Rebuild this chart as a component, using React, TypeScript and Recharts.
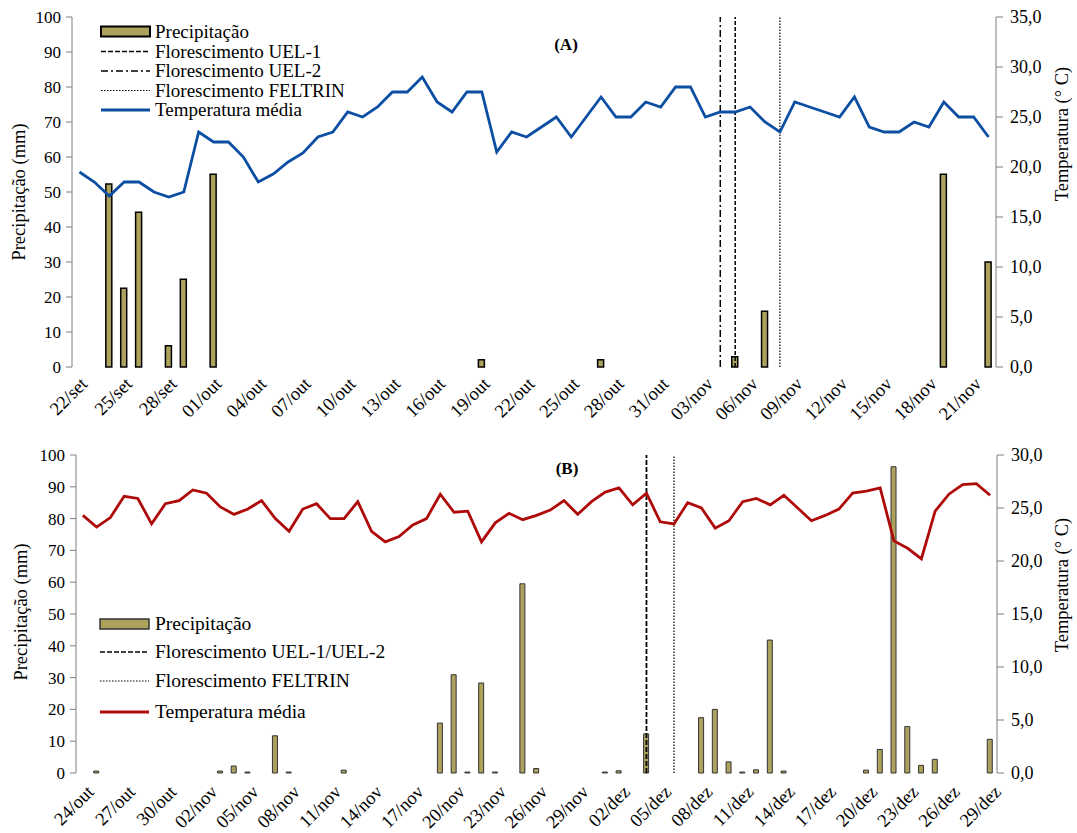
import { Bar, ComposedChart, Line, ReferenceLine, XAxis, YAxis } from 'recharts'

const serif = 'Liberation Serif, DejaVu Serif, Times New Roman, serif'
const barColor = '#ADA15E'
const axisColor = '#7f7f7f'

// Painel A: 22/set a 22/nov
const datesA = [
  '22/set', '23/set', '24/set', '25/set', '26/set', '27/set', '28/set', '29/set', '30/set',
  '01/out', '02/out', '03/out', '04/out', '05/out', '06/out', '07/out', '08/out', '09/out', '10/out',
  '11/out', '12/out', '13/out', '14/out', '15/out', '16/out', '17/out', '18/out', '19/out', '20/out',
  '21/out', '22/out', '23/out', '24/out', '25/out', '26/out', '27/out', '28/out', '29/out', '30/out', '31/out',
  '01/nov', '02/nov', '03/nov', '04/nov', '05/nov', '06/nov', '07/nov', '08/nov', '09/nov', '10/nov',
  '11/nov', '12/nov', '13/nov', '14/nov', '15/nov', '16/nov', '17/nov', '18/nov', '19/nov', '20/nov',
  '21/nov', '22/nov',
]

const precipA = [
  0, 0, 52.3, 22.5, 44.2, 0, 6.1, 25.1, 0, 55.1,
  0, 0, 0, 0, 0, 0, 0, 0, 0, 0,
  0, 0, 0, 0, 0, 0, 0, 2.1, 0, 0,
  0, 0, 0, 0, 0, 2.1, 0, 0, 0, 0,
  0, 0, 0, 0, 2.9, 0, 15.9, 0, 0, 0,
  0, 0, 0, 0, 0, 0, 0, 0, 55.1, 0,
  0, 30.0,
]

const tempA = [
  19.5, 18.5, 17.1, 18.5, 18.5, 17.5, 17.0, 17.5, 23.5, 22.5,
  22.5, 21.0, 18.5, 19.3, 20.5, 21.4, 23.0, 23.5, 25.5, 25.0,
  26.0, 27.5, 27.5, 29.0, 26.5, 25.5, 27.5, 27.5, 21.5, 23.5,
  23.0, 24.0, 25.0, 23.0, 25.0, 27.0, 25.0, 25.0, 26.5, 26.0,
  28.0, 28.0, 25.0, 25.5, 25.5, 26.0, 24.5, 23.5, 26.5, 26.0,
  25.5, 25.0, 27.0, 24.0, 23.5, 23.5, 24.5, 24.0, 26.5, 25.0,
  25.0, 23.0,
]

// Painel B: 24/out a 29/dez
const datesB = [
  '24/out', '25/out', '26/out', '27/out', '28/out', '29/out', '30/out', '31/out',
  '01/nov', '02/nov', '03/nov', '04/nov', '05/nov', '06/nov', '07/nov', '08/nov', '09/nov', '10/nov',
  '11/nov', '12/nov', '13/nov', '14/nov', '15/nov', '16/nov', '17/nov', '18/nov', '19/nov', '20/nov',
  '21/nov', '22/nov', '23/nov', '24/nov', '25/nov', '26/nov', '27/nov', '28/nov', '29/nov', '30/nov',
  '01/dez', '02/dez', '03/dez', '04/dez', '05/dez', '06/dez', '07/dez', '08/dez', '09/dez', '10/dez',
  '11/dez', '12/dez', '13/dez', '14/dez', '15/dez', '16/dez', '17/dez', '18/dez', '19/dez', '20/dez',
  '21/dez', '22/dez', '23/dez', '24/dez', '25/dez', '26/dez', '27/dez', '28/dez', '29/dez',
]

const precipB = [
  0, 0.6, 0, 0, 0, 0, 0, 0, 0, 0,
  0.6, 2.2, 0.3, 0, 11.7, 0.3, 0, 0, 0, 0.9,
  0, 0, 0, 0, 0, 0, 15.7, 30.9, 0.3, 28.3,
  0.3, 0, 59.5, 1.4, 0, 0, 0, 0, 0.3, 0.7,
  0, 12.3, 0, 0, 0, 17.4, 20.0, 3.5, 0.3, 1.0,
  41.8, 0.6, 0, 0, 0, 0, 0, 0.9, 7.4, 96.3,
  14.6, 2.4, 4.3, 0, 0, 0, 10.6,
]

const tempB = [
  24.3, 23.2, 24.1, 26.1, 25.9, 23.5, 25.4, 25.7, 26.7, 26.4,
  25.1, 24.4, 24.9, 25.7, 24.0, 22.8, 24.9, 25.4, 24.0, 24.0,
  25.6, 22.8, 21.8, 22.3, 23.4, 24.0, 26.3, 24.6, 24.7, 21.8,
  23.6, 24.5, 23.9, 24.3, 24.8, 25.7, 24.4, 25.6, 26.5, 26.9,
  25.3, 26.4, 23.7, 23.5, 25.5, 25.0, 23.1, 23.8, 25.6, 25.9,
  25.3, 26.2, 25.0, 23.8, 24.3, 24.9, 26.4, 26.6, 26.9, 21.9,
  21.2, 20.2, 24.7, 26.3, 27.2, 27.3, 26.2,
]

const mmTicks = [0, 10, 20, 30, 40, 50, 60, 70, 80, 90, 100]
const tempTicksA = [0, 5, 10, 15, 20, 25, 30, 35]
const tempTicksB = [0, 5, 10, 15, 20, 25, 30]

const dataA = datesA.map((date, i) => ({ date, precip: precipA[i], temp: tempA[i] }))
const dataB = datesB.map((date, i) => ({ date, precip: precipB[i], temp: tempB[i] }))

const dayEdgesA = Array.from({ length: datesA.length + 1 }, (_, i) => i)
const dayEdgesB = Array.from({ length: datesB.length + 1 }, (_, i) => i)

const fmtTemp = (v: number) => v.toFixed(1).replace('.', ',')

const DateTick = (props: any) => {
  const { x, y, payload, drop = 18, shift = 9 } = props
  const ax = x + shift
  const ay = y + drop
  return (
    <text x={ax} y={ay} textAnchor="end" fontSize={18.5} fontFamily={serif} fill="#000" transform={`rotate(-45 ${ax} ${ay})`}>
      {payload.value}
    </text>
  )
}

const leftTick = { fill: '#000', fontSize: 17, fontFamily: serif }
const rightTick = { fill: '#000', fontSize: 18, fontFamily: serif }

function PanelA() {
  return (
    <ComposedChart width={1077} height={420} data={dataA} margin={{ top: 17, right: 21, left: 22, bottom: 8 }}>
      <XAxis xAxisId="grid" type="number" domain={[0, datesA.length]} ticks={dayEdgesA} interval={0} tick={false} tickSize={5} height={0} stroke={axisColor} allowDataOverflow />
      <XAxis xAxisId="cat" dataKey="date" interval={2} tickLine={false} axisLine={false} tickSize={0} tickMargin={0} tick={<DateTick drop={18} shift={9} />} height={45} />
      <YAxis yAxisId="mm" domain={[0, 100]} ticks={mmTicks} interval={0} width={50} tickSize={6} tickMargin={5} stroke={axisColor} tick={leftTick} />
      <YAxis yAxisId="temp" orientation="right" domain={[0, 35]} ticks={tempTicksA} interval={0} tickFormatter={fmtTemp} width={60} tickSize={7} tickMargin={7} stroke={axisColor} tick={rightTick} />
      <Bar xAxisId="cat" yAxisId="mm" dataKey="precip" fill={barColor} stroke="#000" strokeWidth={1.5} barSize={6} isAnimationActive={false} />
      <ReferenceLine xAxisId="cat" yAxisId="mm" x="04/nov" stroke="#000" strokeWidth={1.5} strokeDasharray="7 3 2 3" />
      <ReferenceLine xAxisId="cat" yAxisId="mm" x="05/nov" stroke="#000" strokeWidth={1.5} strokeDasharray="4 2" />
      <ReferenceLine xAxisId="cat" yAxisId="mm" x="08/nov" stroke="#000" strokeWidth={1.2} strokeDasharray="1.5 1.5" />
      <Line xAxisId="cat" yAxisId="temp" type="linear" dataKey="temp" stroke="#0B4EA2" strokeWidth={2.8} dot={false} isAnimationActive={false} />
    </ComposedChart>
  )
}

function PanelB() {
  return (
    <ComposedChart width={1077} height={413} data={dataB} margin={{ top: 35, right: 20, left: 26, bottom: 4 }}>
      <XAxis xAxisId="grid" type="number" domain={[0, datesB.length]} ticks={dayEdgesB} interval={0} tick={false} tickSize={5} height={0} stroke={axisColor} allowDataOverflow />
      <XAxis xAxisId="cat" dataKey="date" interval={2} tickLine={false} axisLine={false} tickSize={0} tickMargin={0} tick={<DateTick drop={20} shift={12} />} height={56} />
      <YAxis yAxisId="mm" domain={[0, 100]} ticks={mmTicks} interval={0} width={50} tickSize={6} tickMargin={5} stroke={axisColor} tick={leftTick} />
      <YAxis yAxisId="temp" orientation="right" domain={[0, 30]} ticks={tempTicksB} interval={0} tickFormatter={fmtTemp} width={60} tickSize={7} tickMargin={7} stroke={axisColor} tick={rightTick} />
      <Bar xAxisId="cat" yAxisId="mm" dataKey="precip" fill={barColor} stroke="#333" strokeWidth={1} barSize={5} isAnimationActive={false} />
      <ReferenceLine xAxisId="cat" yAxisId="mm" x="04/dez" stroke="#000" strokeWidth={1.8} strokeDasharray="5 2" />
      <ReferenceLine xAxisId="cat" yAxisId="mm" x="06/dez" stroke="#000" strokeWidth={1.2} strokeDasharray="1.5 1.5" />
      <Line xAxisId="cat" yAxisId="temp" type="linear" dataKey="temp" stroke="#AE0A0A" strokeWidth={2.8} dot={false} isAnimationActive={false} />
    </ComposedChart>
  )
}

function Overlay() {
  const txt = { fontFamily: serif, fontSize: 19, fill: '#000' }
  const txtB = { fontFamily: serif, fontSize: 19.5, fill: '#000' }
  return (
    <svg width={1077} height={833} style={{ position: 'absolute', left: 0, top: 0, pointerEvents: 'none' }}>
      {/* legenda A */}
      <rect x={101} y={26.5} width={49} height={10} fill={barColor} stroke="#000" strokeWidth={2} />
      <text x={155} y={37.5} {...txt}>Precipitação</text>
      <line x1={101} x2={150} y1={51.5} y2={51.5} stroke="#000" strokeWidth={1.5} strokeDasharray="5 2" />
      <text x={155} y={57.5} {...txt}>Florescimento UEL-1</text>
      <line x1={101} x2={150} y1={71} y2={71} stroke="#000" strokeWidth={1.5} strokeDasharray="7 3 2 3" />
      <text x={155} y={77} {...txt}>Florescimento UEL-2</text>
      <line x1={101} x2={150} y1={90.5} y2={90.5} stroke="#000" strokeWidth={1.2} strokeDasharray="1.5 1.5" />
      <text x={155} y={96.5} {...txt}>Florescimento FELTRIN</text>
      <line x1={101} x2={150} y1={110} y2={110} stroke="#0B4EA2" strokeWidth={3} />
      <text x={155} y={116} {...txt}>Temperatura média</text>
      <text x={566} y={50} textAnchor="middle" fontFamily={serif} fontSize={17} fontWeight="bold">(A)</text>

      {/* legenda B */}
      <rect x={100} y={619} width={49} height={10} fill={barColor} stroke="#333" strokeWidth={1.5} />
      <text x={155} y={630} {...txtB}>Precipitação</text>
      <line x1={100} x2={149} y1={652} y2={652} stroke="#000" strokeWidth={1.5} strokeDasharray="5 2" />
      <text x={155} y={658} {...txtB}>Florescimento UEL-1/UEL-2</text>
      <line x1={100} x2={149} y1={681} y2={681} stroke="#000" strokeWidth={1.2} strokeDasharray="1.5 1.5" />
      <text x={155} y={687} {...txtB}>Florescimento FELTRIN</text>
      <line x1={100} x2={149} y1={712} y2={712} stroke="#AE0A0A" strokeWidth={3} />
      <text x={155} y={718} {...txtB}>Temperatura média</text>
      <text x={567} y={474} textAnchor="middle" fontFamily={serif} fontSize={17} fontWeight="bold">(B)</text>

      {/* títulos dos eixos */}
      <text transform="translate(25 192) rotate(-90)" textAnchor="middle" fontFamily={serif} fontSize={18.5}>Precipitação (mm)</text>
      <text transform="translate(1068 134) rotate(-90)" textAnchor="middle" fontFamily={serif} fontSize={18.5}>Temperatura (° C)</text>
      <text transform="translate(27 612) rotate(-90)" textAnchor="middle" fontFamily={serif} fontSize={18.5}>Precipitação (mm)</text>
      <text transform="translate(1068 585) rotate(-90)" textAnchor="middle" fontFamily={serif} fontSize={18.5}>Temperatura (° C)</text>
    </svg>
  )
}

export default function App() {
  return (
    <div style={{ position: 'absolute', left: 0, top: 0, width: 1077, height: 833, background: '#fff' }}>
      <div style={{ position: 'absolute', left: 0, top: 0 }}>
        <PanelA />
      </div>
      <div style={{ position: 'absolute', left: 0, top: 420 }}>
        <PanelB />
      </div>
      <Overlay />
    </div>
  )
}
